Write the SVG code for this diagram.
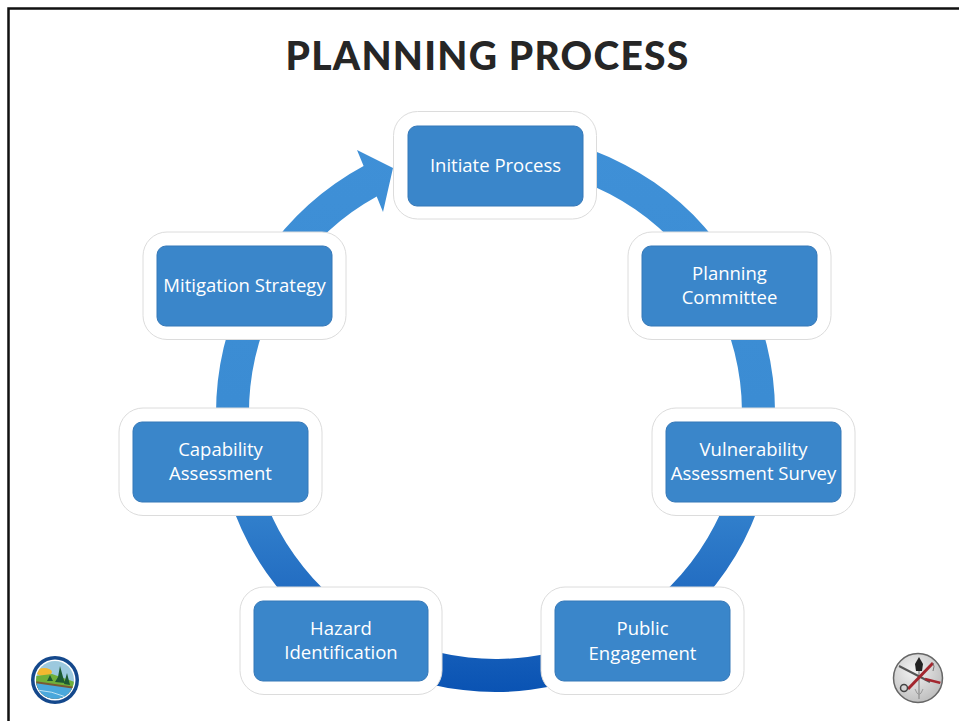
<svg xmlns="http://www.w3.org/2000/svg" width="959" height="721" viewBox="0 0 959 721">
<style>
.halo{fill:#fff;stroke:#dcdcdc;stroke-width:1}
.box{fill:#3a86ca;stroke:#3578b8;stroke-width:1}
.lbl{font-family:"Open Sans","Liberation Sans",sans-serif;font-size:18.500px;fill:#fff;text-anchor:middle}
.title{font-family:Lato,"Liberation Sans",sans-serif;font-weight:900;font-size:39px;letter-spacing:1.250px;fill:#262626;text-anchor:middle}
</style>
<defs>
<linearGradient id="ring" gradientUnits="userSpaceOnUse" x1="0" y1="133" x2="0" y2="692">
<stop offset="0" stop-color="#3f90d7"/><stop offset="0.6" stop-color="#3a8bd2"/><stop offset="0.85" stop-color="#1f68bf"/><stop offset="1" stop-color="#0a53b3"/>
</linearGradient>
<clipPath id="lc"><circle cx="55" cy="680" r="19"/></clipPath>
<clipPath id="rc"><circle cx="918" cy="678" r="23"/></clipPath>
<radialGradient id="disc" cx="0.4" cy="0.35" r="0.8"><stop offset="0" stop-color="#f2f2f2"/><stop offset="1" stop-color="#b5b5b5"/></radialGradient>
</defs>
<rect width="959" height="721" fill="#fff"/>
<g id="frame"><path d="M8.500 721V8.500H959" fill="none" stroke="#111" stroke-width="2.500"/></g>
<text class="title" x="487.500" y="70">PLANNING PROCESS</text>
<g id="connectors">
<path fill="url(#ring)" d="M357 150L393 168L383 212L376.700 196.500A246.500 246.500 0 1 0 495.500 166L495.500 133A279.500 279.500 0 1 1 363.600 166.100Z"/>
</g>
<g id="node-initiate"><rect class="halo" x="393.500" y="111.500" width="203" height="107.500" rx="24"/><rect class="box" x="408" y="126" width="175" height="80" rx="9"/><text class="lbl" x="495.500" y="172">Initiate Process</text></g>
<g id="node-planning"><rect class="halo" x="628" y="232" width="203" height="107.500" rx="24"/><rect class="box" x="642" y="246" width="175" height="80" rx="9"/><text class="lbl" x="729.500" y="280">Planning</text><text class="lbl" x="729.500" y="304">Committee</text></g>
<g id="node-vulnerability"><rect class="halo" x="652" y="408" width="203" height="107.500" rx="24"/><rect class="box" x="666" y="422" width="175" height="80" rx="9"/><text class="lbl" x="753.500" y="456">Vulnerability</text><text class="lbl" x="753.500" y="480">Assessment Survey</text></g>
<g id="node-public"><rect class="halo" x="541" y="587" width="203" height="107.500" rx="24"/><rect class="box" x="555" y="601" width="175" height="80" rx="9"/><text class="lbl" x="642.500" y="635">Public</text><text class="lbl" x="642.500" y="660">Engagement</text></g>
<g id="node-hazard"><rect class="halo" x="240" y="587" width="202" height="107.500" rx="24"/><rect class="box" x="254" y="601" width="174" height="80" rx="9"/><text class="lbl" x="341" y="635">Hazard</text><text class="lbl" x="341" y="659">Identification</text></g>
<g id="node-capability"><rect class="halo" x="119" y="408" width="203" height="107.500" rx="24"/><rect class="box" x="133" y="422" width="175" height="80" rx="9"/><text class="lbl" x="220.500" y="456">Capability</text><text class="lbl" x="220.500" y="480">Assessment</text></g>
<g id="node-mitigation"><rect class="halo" x="143" y="232" width="203" height="107.500" rx="24"/><rect class="box" x="157" y="246" width="175" height="80" rx="9"/><text class="lbl" x="244.500" y="292">Mitigation Strategy</text></g>
<g id="logo-left">
<circle cx="55" cy="680" r="24" fill="#14488c"/><circle cx="55" cy="680" r="20.500" fill="#fff"/>
<g clip-path="url(#lc)">
<rect x="35" y="660" width="40" height="40" fill="#9cc9de"/>
<ellipse cx="44" cy="672" rx="8" ry="4" fill="#f2b830"/>
<path d="M35 676L52 674L75 682V692H35Z" fill="#6fb03a"/>
<path d="M60 666L63 677L65 683L55 682L58 677ZM67 673L70 685L64 684ZM50 675L53 681H47Z" fill="#1d5a33"/>
<path d="M35 681L75 687V700H35Z" fill="#7a5a34"/>
<path d="M35 683L75 689V700H35Z" fill="#4aa8dc"/>
<path d="M37 690Q52 691 66 697" fill="none" stroke="#bfe3f4" stroke-width="1"/>
</g>
</g>
<g id="logo-right">
<circle cx="918" cy="678" r="24.500" fill="url(#disc)" stroke="#666" stroke-width="1.500"/>
<g clip-path="url(#rc)">
<path d="M919 670V699" stroke="#999" stroke-width="1.500" fill="none"/>
<path d="M915 689Q919 700 923 689" stroke="#999" fill="none"/>
<path d="M915 664L919 657L923 664L922 671H916Z" fill="#222"/>
<path d="M899 666L930 682" stroke="#555" stroke-width="2"/>
<path d="M933 663L908 689" stroke="#a3262e" stroke-width="3"/>
<path d="M925 679L941 683" stroke="#a3262e" stroke-width="2.500"/>
<path d="M933 663Q935 666 933 671" stroke="#777" fill="none"/>
<circle cx="904" cy="688" r="3.500" fill="none" stroke="#444" stroke-width="1.500"/>
</g>
</g>
</svg>
